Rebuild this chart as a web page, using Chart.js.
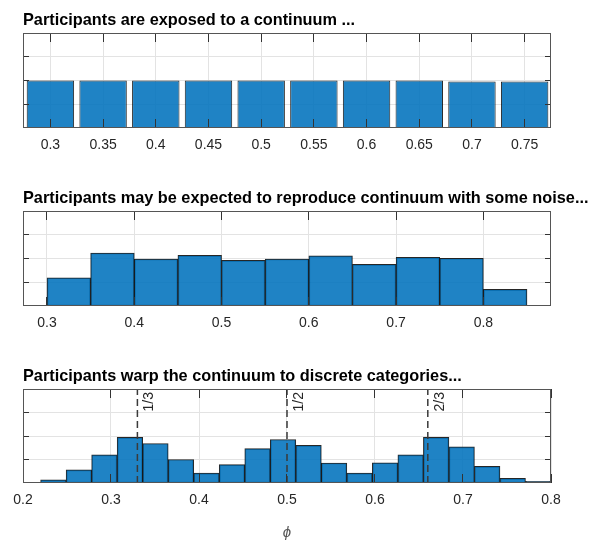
<!DOCTYPE html>
<html>
<head>
<meta charset="utf-8">
<script src="https://cdn.jsdelivr.net/npm/chart.js@4.4.1/dist/chart.umd.min.js"></script>
<style>
  html, body { margin: 0; padding: 0; background: #fff; }
  #wrap { position: relative; width: 603px; height: 542px; }
  canvas { position: absolute; left: 0; }
</style>
</head>
<body>
<div id="wrap">
  <canvas id="exposed" width="603" height="170" style="top:0"></canvas>
  <canvas id="noise" width="603" height="170" style="top:170px"></canvas>
  <canvas id="warp" width="603" height="202" style="top:340px"></canvas>
</div>
<script>
// Panel 1 - stimuli on the continuum
const exposedPhi = [0.3, 0.35, 0.4, 0.45, 0.5, 0.55, 0.6, 0.65, 0.7, 0.75];
const exposedCounts = [2, 2, 2, 2, 2, 2, 2, 2, 1.96, 1.96];
const exposedTicks = [0.3, 0.35, 0.4, 0.45, 0.5, 0.55, 0.6, 0.65, 0.7, 0.75];
const exposedTickLabels = ['0.3', '0.35', '0.4', '0.45', '0.5', '0.55', '0.6', '0.65', '0.7', '0.75'];

// Panel 2 - noisy reproduction (bins of 0.05)
const noiseBinCenters = [0.325, 0.375, 0.425, 0.475, 0.525, 0.575, 0.625, 0.675, 0.725, 0.775, 0.825];
const noiseCounts = [1.19, 2.23, 1.98, 2.13, 1.92, 1.98, 2.11, 1.75, 2.05, 2.01, 0.70];
const noiseTicks = [0.3, 0.4, 0.5, 0.6, 0.7, 0.8];
const noiseTickLabels = ['0.3', '0.4', '0.5', '0.6', '0.7', '0.8'];

// Panel 3 - warped towards categories (bins of 0.029 from 0.22)
const warpBinCenters = [0.2345, 0.2635, 0.2925, 0.3215, 0.3505, 0.3795, 0.4085, 0.4375, 0.4665, 0.4955,
                        0.5245, 0.5535, 0.5825, 0.6115, 0.6405, 0.6695, 0.6985, 0.7275, 0.7565, 0.7855];
const warpCounts = [0.13, 0.56, 1.20, 1.94, 1.68, 1.00, 0.42, 0.78, 1.46, 1.85,
                    1.60, 0.85, 0.42, 0.86, 1.20, 1.94, 1.54, 0.71, 0.20, 0.07];
const warpTicks = [0.2, 0.3, 0.4, 0.5, 0.6, 0.7, 0.8];
const warpTickLabels = ['0.2', '0.3', '0.4', '0.5', '0.6', '0.7', '0.8'];
const categoryPhi = [0.33, 0.5, 0.66];
const categoryLabels = ['1/3', '1/2', '2/3'];

const countTicks = [1, 2, 3];

const BAR_FILL = 'rgba(0, 114, 189, 0.88)';
const BAR_EDGE = 'rgba(0, 0, 0, 0.85)';
const GRID = '#e3e3e3';
const TEXT = '#262626';

Chart.defaults.font.family = '"Liberation Sans", Arial, Helvetica, sans-serif';

// Box, inward tick marks (MATLAB style) and the rotated category labels
const axesFrame = {
  id: 'axesFrame',
  afterDatasetsDraw(chart, args, opts) {
    const { ctx, chartArea: a, scales: { x, y } } = chart;
    const align = p => Math.round(p - 0.5) + 0.5;
    ctx.save();
    ctx.lineWidth = 1;
    ctx.strokeStyle = '#333';
    ctx.beginPath();
    x.ticks.forEach(t => {
      const px = align(x.getPixelForValue(t.value));
      ctx.moveTo(px, a.top); ctx.lineTo(px, a.top + 9);
      ctx.moveTo(px, a.bottom); ctx.lineTo(px, a.bottom - 9);
    });
    y.ticks.forEach(t => {
      const py = align(y.getPixelForValue(t.value));
      ctx.moveTo(a.left, py); ctx.lineTo(a.left + 6, py);
      ctx.moveTo(a.right, py); ctx.lineTo(a.right - 6, py);
    });
    ctx.stroke();
    ctx.strokeStyle = '#555';
    ctx.strokeRect(a.left + 0.5, a.top + 0.5, a.width - 1, a.height - 1);

    (opts.marks || []).forEach(m => {
      ctx.save();
      ctx.translate(x.getPixelForValue(m.value) + 5, a.top + 3);
      ctx.rotate(-Math.PI / 2);
      ctx.fillStyle = TEXT;
      ctx.font = '14px "Liberation Sans", Arial, sans-serif';
      ctx.textAlign = 'right';
      ctx.textBaseline = 'top';
      ctx.fillText(m.label, 0, 0);
      ctx.restore();
    });
    ctx.restore();
  }
};

function histogram(xs, counts, barPercentage) {
  return {
    type: 'bar',
    data: xs.map((v, i) => ({ x: v, y: counts[i] })),
    backgroundColor: BAR_FILL,
    borderColor: BAR_EDGE,
    borderWidth: 1,
    borderSkipped: false,
    barPercentage: barPercentage,
    categoryPercentage: 1,
    order: 1
  };
}

function drawPanel(canvasId, cfg) {
  return new Chart(document.getElementById(canvasId), {
    type: 'bar',
    data: { datasets: cfg.datasets },
    options: {
      responsive: false,
      animation: false,
      events: [],
      layout: { padding: { left: 23, right: 0, top: 0, bottom: 0 } },
      plugins: {
        legend: { display: false },
        tooltip: { enabled: false },
        title: {
          display: true,
          text: cfg.title,
          align: 'start',
          color: '#000',
          font: { size: 16.3, weight: 'bold', lineHeight: '18px' },
          padding: { top: cfg.titleTop, bottom: 3 }
        },
        axesFrame: { marks: cfg.marks || [] }
      },
      scales: {
        x: {
          type: 'linear',
          min: cfg.xMin,
          max: cfg.xMax,
          offset: false,
          grid: { offset: false, color: GRID, drawTicks: false },
          border: { display: false },
          ticks: {
            padding: 9,
            color: TEXT,
            font: { size: 14 },
            autoSkip: false,
            maxRotation: 0,
            callback: (v, i) => cfg.tickLabels[i]
          },
          afterBuildTicks: s => { s.ticks = cfg.ticks.map(v => ({ value: v })); },
          afterFit: s => { s.height = cfg.axisHeight; },
          title: cfg.xTitle || { display: false }
        },
        y: {
          min: 0,
          max: 4,
          grid: { color: GRID, drawTicks: false },
          border: { display: false },
          ticks: { display: false },
          afterBuildTicks: s => { s.ticks = countTicks.map(v => ({ value: v })); },
          afterFit: s => { s.width = 0; }
        },
        // empty right axis: only reserves the margin right of the box
        yRight: {
          position: 'right',
          min: 0,
          max: 4,
          grid: { display: false },
          border: { display: false },
          ticks: { display: false },
          afterFit: s => { s.width = 52; }
        }
      }
    },
    plugins: [axesFrame]
  });
}

drawPanel('exposed', {
  title: 'Participants are exposed to a continuum ...',
  titleTop: 12,
  xMin: 0.274, xMax: 0.775,
  ticks: exposedTicks, tickLabels: exposedTickLabels,
  axisHeight: 42,
  datasets: [histogram(exposedPhi, exposedCounts, 0.9)]
});

drawPanel('noise', {
  title: 'Participants may be expected to reproduce continuum with some noise...',
  titleTop: 20,
  xMin: 0.2725, xMax: 0.8775,
  ticks: noiseTicks, tickLabels: noiseTickLabels,
  axisHeight: 34,
  datasets: [histogram(noiseBinCenters, noiseCounts, 1)]
});

const categoryLines = categoryPhi.map(v => ({
  type: 'line',
  data: [{ x: v, y: 0 }, { x: v, y: 4 }],
  borderColor: '#3a3a3a',
  borderWidth: 1.5,
  borderDash: [7, 4],
  pointRadius: 0,
  order: 0
}));

drawPanel('warp', {
  title: 'Participants warp the continuum to discrete categories...',
  titleTop: 28,
  xMin: 0.2, xMax: 0.8,
  ticks: warpTicks, tickLabels: warpTickLabels,
  axisHeight: 59,
  marks: categoryPhi.map((v, i) => ({ value: v, label: categoryLabels[i] })),
  xTitle: {
    display: true,
    text: 'ϕ',
    color: '#555',
    font: { size: 15, style: 'italic', lineHeight: '18px' },
    padding: 0
  },
  datasets: categoryLines.concat([histogram(warpBinCenters, warpCounts, 1)])
});
</script>
</body>
</html>
